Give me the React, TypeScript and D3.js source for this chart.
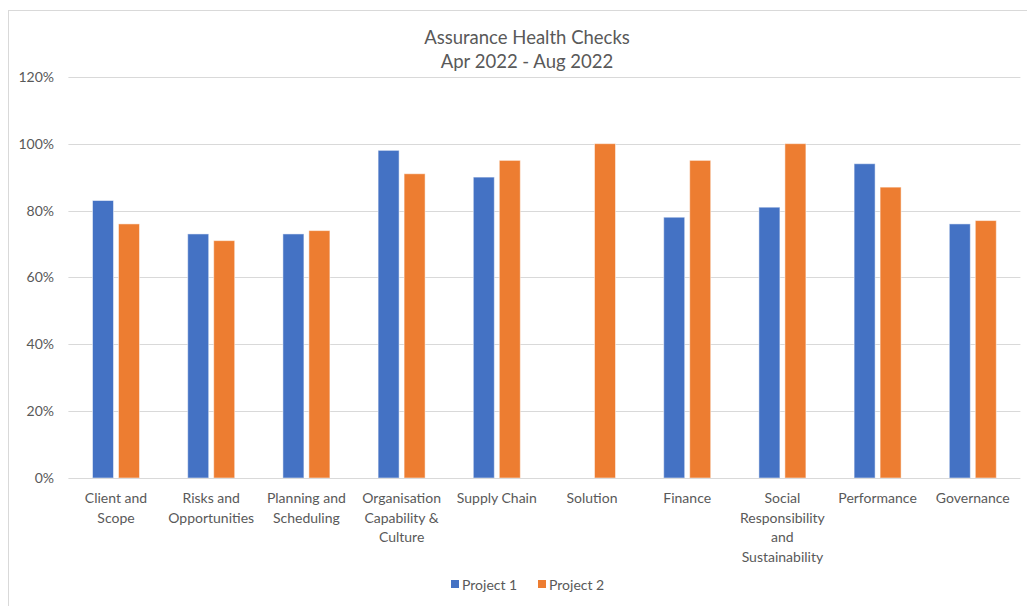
import React from "react";
import * as d3 from "d3";

const categories: string[][] = [
  ["Client and", "Scope"],
  ["Risks and", "Opportunities"],
  ["Planning and", "Scheduling"],
  ["Organisation", "Capability &", "Culture"],
  ["Supply Chain"],
  ["Solution"],
  ["Finance"],
  ["Social", "Responsibility", "and", "Sustainability"],
  ["Performance"],
  ["Governance"],
];
const seriesNames = ["Project 1", "Project 2"];
const project1: (number | null)[] = [0.83, 0.73, 0.73, 0.98, 0.9, null, 0.78, 0.81, 0.94, 0.76];
const project2: (number | null)[] = [0.76, 0.71, 0.74, 0.91, 0.95, 1.0, 0.95, 1.0, 0.87, 0.77];
const yTicks = [0, 0.2, 0.4, 0.6, 0.8, 1.0, 1.2];
const colors = ["#4472C4", "#ED7D31"];

const W = 1027;
const H = 606;
const FONT = "Lato, Calibri, 'Noto Sans', sans-serif";
const TEXT = "#595959";

export default function App() {
  const keys = categories.map((c) => c.join(" "));
  const x0 = d3.scaleBand<string>().domain(keys).range([68.4, 1020.4]).padding(0);
  const x1 = d3.scaleBand<string>().domain(seriesNames).range([0, 47]).paddingInner(0.192).paddingOuter(0);
  const y = d3.scaleLinear().domain([0, 1.2]).range([478, 76.8]);
  const series = [project1, project2];
  const fmt = d3.format(".0%");

  return (
    <svg width={W} height={H} style={{ position: "absolute", left: 0, top: 0 }} fontFamily={FONT}>
      <rect x={0} y={0} width={W} height={H} fill="#fff" />
      <rect x={8.5} y={10.5} width={1040} height={610} fill="#fff" stroke="#D9D9D9" strokeWidth={1} />
      <text x={527} y={44} textAnchor="middle" fontSize={18.5} fill={TEXT}>Assurance Health Checks</text>
      <text x={527} y={68} textAnchor="middle" fontSize={18.5} fill={TEXT}>Apr 2022 - Aug 2022</text>
      {yTicks.map((t) => (
        <g key={t}>
          {t > 0 && (
            <line x1={68.4} x2={1020.4} y1={Math.round(y(t)) + 0.5} y2={Math.round(y(t)) + 0.5} stroke="#D9D9D9" strokeWidth={1} />
          )}
          <text x={54} y={y(t) + 5} textAnchor="end" fontSize={14} fill={TEXT}>{fmt(t)}</text>
        </g>
      ))}
      {keys.map((k, i) => {
        const cx = (x0(k) as number) + x0.bandwidth() / 2;
        const gx = cx - 23.5;
        return (
          <g key={k}>
            {series.map((s, si) => {
              const v = s[i];
              if (v == null) return null;
              return (
                <rect
                  key={si}
                  x={gx + (x1(seriesNames[si]) as number)}
                  y={y(v)}
                  width={x1.bandwidth()}
                  height={y(0) - y(v)}
                  fill={colors[si]}
                  stroke="#ffffff"
                  strokeOpacity={0.5}
                  strokeWidth={1}
                />
              );
            })}
            {categories[i].map((line, li) => (
              <text key={li} x={cx} y={503 + li * 19.5} textAnchor="middle" fontSize={14} fill={TEXT}>{line}</text>
            ))}
          </g>
        );
      })}
      <line x1={68.4} x2={1020.4} y1={478.5} y2={478.5} stroke="#D9D9D9" strokeWidth={1} />
      {seriesNames.map((n, i) => {
        const lx = i === 0 ? 451 : 538;
        return (
          <g key={n}>
            <rect x={lx} y={580} width={8} height={8} fill={colors[i]} />
            <text x={lx + 11} y={590} fontSize={14} fill={TEXT}>{n}</text>
          </g>
        );
      })}
    </svg>
  );
}
